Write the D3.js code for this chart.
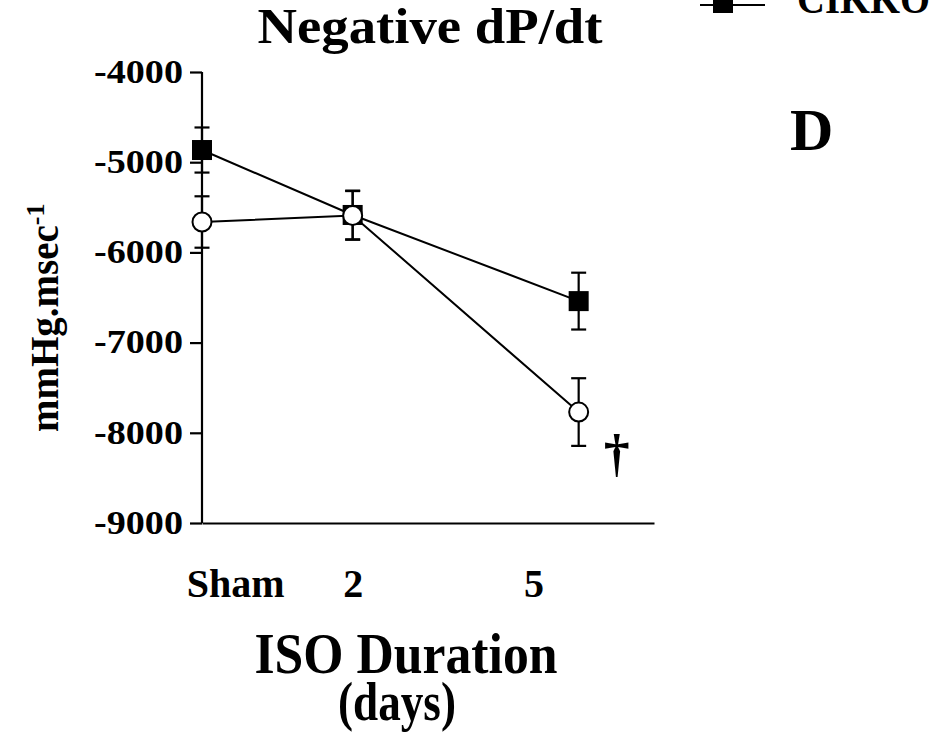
<!DOCTYPE html>
<html><head><meta charset="utf-8">
<script src="https://cdn.jsdelivr.net/npm/d3@7"></script>
<style>
html,body{margin:0;padding:0;background:#fff;}
svg text{font-family:"Liberation Serif","Times New Roman",serif;font-weight:bold;fill:#000;}
</style></head>
<body><svg id="c" width="946" height="735"></svg>
<script>
const days = [0, 2, 5];
const koMean = [-4865, -5585, -6540];
const koErr = [250, 270, 315];
const wtMean = [-5663, -5590, -7770];
const wtErr = [285, 270, 375];
const yTicks = [-4000, -5000, -6000, -7000, -8000, -9000];
const xTickLabels = ["Sham", "2", "5"];
const xTickAt = [0.44, 2, 4.4];

const svg = d3.select("#c");
const x = d3.scaleLinear().domain([0, 6]).range([202, 654]);
const y = d3.scaleLinear().domain([-9000, -4000]).range([523, 72]);

// y axis
const yAxis = d3.axisLeft(y).tickValues(yTicks).tickSize(12).tickFormat(d => d);
const ga = svg.append("g").attr("transform", `translate(${x(0)},0)`).call(yAxis);
ga.select(".domain").attr("stroke", "#000").attr("stroke-width", 2.2).attr("d", `M0,${y(-4000)}V${y(-9000)}`);
ga.selectAll(".tick line").attr("stroke", "#000").attr("stroke-width", 2.2);
ga.selectAll(".tick text").attr("x", -19).attr("dy", "0.3em")
  .style("font-size", "34px").attr("textLength", 89).attr("lengthAdjust", "spacingAndGlyphs");

// x axis
const gx = svg.append("g").attr("transform", `translate(0,${y(-9000)})`)
  .call(d3.axisBottom(x).tickValues(xTickAt).tickSize(0).tickFormat((d, i) => xTickLabels[i]));
gx.select(".domain").attr("stroke", "#000").attr("stroke-width", 2.2);
gx.selectAll(".tick text").attr("y", 74).attr("dy", 0).style("font-size", "40px");

// lines
const line = d3.line().x((d, i) => x(days[i])).y(d => y(d));
svg.append("path").datum(koMean).attr("d", line).attr("fill", "none").attr("stroke", "#000").attr("stroke-width", 2);
svg.append("path").datum(wtMean).attr("d", line).attr("fill", "none").attr("stroke", "#000").attr("stroke-width", 2);

function errBars(mean, err) {
  const g = svg.append("g").attr("stroke", "#000").attr("stroke-width", 2.2);
  mean.forEach((m, i) => {
    const cx = x(days[i]);
    [1, -1].forEach(s => {
      const ye = y(m + s * err[i]);
      g.append("line").attr("x1", cx).attr("x2", cx).attr("y1", y(m)).attr("y2", ye);
      g.append("line").attr("x1", cx - 7.5).attr("x2", cx + 7.5).attr("y1", ye).attr("y2", ye);
    });
  });
}
errBars(koMean, koErr);
errBars(wtMean, wtErr);

// KO squares
svg.selectAll("rect.ko").data(koMean).enter().append("rect")
  .attr("x", (d, i) => x(days[i]) - 10).attr("y", d => y(d) - 10)
  .attr("width", 20).attr("height", 20).attr("fill", "#000");
// WT circles
svg.selectAll("circle.wt").data(wtMean).enter().append("circle")
  .attr("cx", (d, i) => x(days[i])).attr("cy", d => y(d)).attr("r", 9.5)
  .attr("fill", "#fff").attr("stroke", "#000").attr("stroke-width", 2);

// dagger
svg.append("text").attr("x", x(5) + 38).attr("y", 471).attr("text-anchor", "middle")
  .style("font-size", "52px").text("\u2020");

// title
svg.append("text").attr("x", 430).attr("y", 43).attr("text-anchor", "middle")
  .style("font-size", "50px").attr("textLength", 345).attr("lengthAdjust", "spacingAndGlyphs").text("Negative dP/dt");

// y label
const yl = svg.append("text").attr("transform", "translate(58,432) rotate(-90)").style("font-size", "39px");
yl.append("tspan").text("mmHg.msec");
yl.append("tspan").attr("dy", -14).style("font-size", "26px").text("-1");

// x title
svg.append("text").attr("x", 406).attr("y", 673).attr("text-anchor", "middle")
  .style("font-size", "56px").attr("textLength", 303).attr("lengthAdjust", "spacingAndGlyphs").text("ISO Duration");
svg.append("text").attr("x", 397).attr("y", 720).attr("text-anchor", "middle")
  .style("font-size", "55px").attr("textLength", 118).attr("lengthAdjust", "spacingAndGlyphs").text("(days)");

// panel letter
svg.append("text").attr("x", 790).attr("y", 150).style("font-size", "60px").text("D");

// legend (cut off at top)
svg.append("line").attr("x1", 700).attr("x2", 765).attr("y1", 5).attr("y2", 5).attr("stroke", "#000").attr("stroke-width", 2.2);
svg.append("rect").attr("x", 713).attr("y", -7).attr("width", 20).attr("height", 20).attr("fill", "#000");
svg.append("text").attr("x", 797).attr("y", 13).style("font-size", "42px")
  .attr("textLength", 133).attr("lengthAdjust", "spacingAndGlyphs").text("CIKKO");
</script></body></html>
